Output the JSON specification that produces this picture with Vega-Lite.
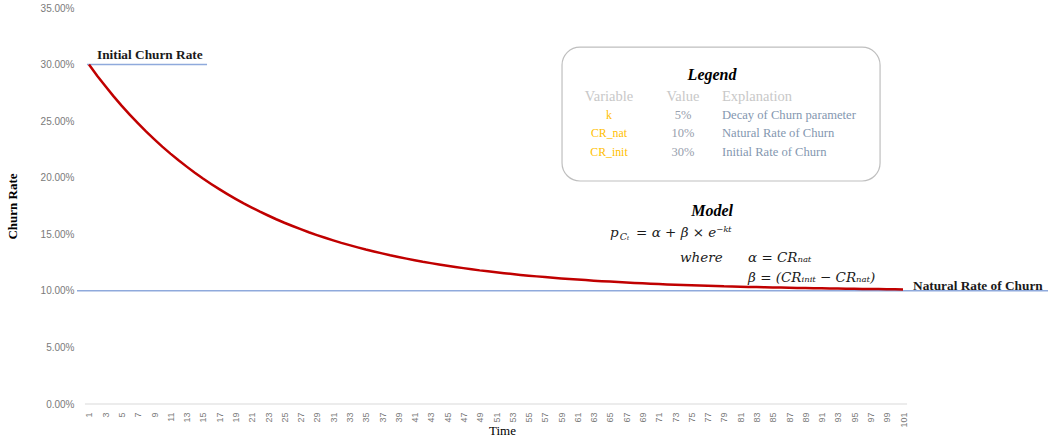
{
  "$schema": "https://vega.github.io/schema/vega-lite/v6.json",
  "width": 971,
  "height": 396,
  "autosize": "none",
  "padding": {"left": 77, "top": 8, "right": 0, "bottom": 38},
  "background": "white",
  "config": {
    "view": {"stroke": null},
    "axis": {"grid": false, "ticks": false, "domain": false, "labelFlush": false, "labelColor": "#7a7a7a", "labelFont": "Liberation Sans", "labelOverlap": false},
    "axisX": {"labelAngle": -90, "labelFontSize": 9, "labelPadding": 8, "labelBound": false},
    "axisY": {"labelFontSize": 10, "labelPadding": 3}
  },
  "datasets": {
    "curve": [
      {"t":1,"v":0.3},{"t":2,"v":0.2902},{"t":3,"v":0.2810},{"t":4,"v":0.2721},{"t":5,"v":0.2637},
      {"t":6,"v":0.2558},{"t":7,"v":0.2482},{"t":8,"v":0.2409},{"t":9,"v":0.2341},{"t":10,"v":0.2275},
      {"t":11,"v":0.2213},{"t":12,"v":0.2154},{"t":13,"v":0.2098},{"t":14,"v":0.2044},{"t":15,"v":0.1993},
      {"t":16,"v":0.1945},{"t":17,"v":0.1899},{"t":18,"v":0.1855},{"t":19,"v":0.1813},{"t":20,"v":0.1773},
      {"t":21,"v":0.1736},{"t":22,"v":0.1700},{"t":23,"v":0.1666},{"t":24,"v":0.1633},{"t":25,"v":0.1602},
      {"t":26,"v":0.1573},{"t":27,"v":0.1545},{"t":28,"v":0.1518},{"t":29,"v":0.1493},{"t":30,"v":0.1469},
      {"t":31,"v":0.1446},{"t":32,"v":0.1424},{"t":33,"v":0.1404},{"t":34,"v":0.1384},{"t":35,"v":0.1365},
      {"t":36,"v":0.1348},{"t":37,"v":0.1331},{"t":38,"v":0.1314},{"t":39,"v":0.1299},{"t":40,"v":0.1285},
      {"t":41,"v":0.1271},{"t":42,"v":0.1257},{"t":43,"v":0.1245},{"t":44,"v":0.1233},{"t":45,"v":0.1222},
      {"t":46,"v":0.1211},{"t":47,"v":0.1201},{"t":48,"v":0.1191},{"t":49,"v":0.1181},{"t":50,"v":0.1173},
      {"t":51,"v":0.1164},{"t":52,"v":0.1156},{"t":53,"v":0.1149},{"t":54,"v":0.1141},{"t":55,"v":0.1134},
      {"t":56,"v":0.1128},{"t":57,"v":0.1122},{"t":58,"v":0.1116},{"t":59,"v":0.1110},{"t":60,"v":0.1105},
      {"t":61,"v":0.1100},{"t":62,"v":0.1095},{"t":63,"v":0.1090},{"t":64,"v":0.1086},{"t":65,"v":0.1082},
      {"t":66,"v":0.1078},{"t":67,"v":0.1074},{"t":68,"v":0.1070},{"t":69,"v":0.1067},{"t":70,"v":0.1063},
      {"t":71,"v":0.1060},{"t":72,"v":0.1057},{"t":73,"v":0.1055},{"t":74,"v":0.1052},{"t":75,"v":0.1049},
      {"t":76,"v":0.1047},{"t":77,"v":0.1045},{"t":78,"v":0.1043},{"t":79,"v":0.1040},{"t":80,"v":0.1039},
      {"t":81,"v":0.1037},{"t":82,"v":0.1035},{"t":83,"v":0.1033},{"t":84,"v":0.1032},{"t":85,"v":0.1030},
      {"t":86,"v":0.1029},{"t":87,"v":0.1027},{"t":88,"v":0.1026},{"t":89,"v":0.1025},{"t":90,"v":0.1023},
      {"t":91,"v":0.1022},{"t":92,"v":0.1021},{"t":93,"v":0.1020},{"t":94,"v":0.1019},{"t":95,"v":0.1018},
      {"t":96,"v":0.1017},{"t":97,"v":0.1016},{"t":98,"v":0.1016},{"t":99,"v":0.1015},{"t":100,"v":0.1014},
      {"t":101,"v":0.1013}
    ],
    "natural": [{"t": -0.474, "t2": 118.81, "v": 0.1}],
    "initLine": [{"t": 0.75, "t2": 15.5, "v": 0.3}],
    "baseLine": [{"t": 0.5, "t2": 101.5, "v": 0}],
    "box": [{"t": 59.11, "t2": 98.18, "v": 0.3155, "v2": 0.1971}],
    "boldLabels": [
      {"t": 1.98, "v": 0.3085, "text": "Initial Churn Rate"},
      {"t": 102.23, "v": 0.1043, "text": "Natural Rate of Churn"}
    ],
    "headings": [
      {"t": 77.54, "v": 0.2908, "text": "Legend"},
      {"t": 77.54, "v": 0.1706, "text": "Model"}
    ],
    "colHeadCenter": [
      {"t": 64.88, "v": 0.2713, "text": "Variable"},
      {"t": 73.97, "v": 0.2713, "text": "Value"}
    ],
    "colHeadLeft": [
      {"t": 78.76, "v": 0.2713, "text": "Explanation"}
    ],
    "varNames": [
      {"t": 64.88, "v": 0.2554, "text": "k"},
      {"t": 64.88, "v": 0.2395, "text": "CR_nat"},
      {"t": 64.88, "v": 0.2227, "text": "CR_init"}
    ],
    "varValues": [
      {"t": 73.97, "v": 0.2554, "text": "5%"},
      {"t": 73.97, "v": 0.2395, "text": "10%"},
      {"t": 73.97, "v": 0.2227, "text": "30%"}
    ],
    "varExpl": [
      {"t": 78.76, "v": 0.2554, "text": "Decay of Churn parameter"},
      {"t": 78.76, "v": 0.2395, "text": "Natural Rate of Churn"},
      {"t": 78.76, "v": 0.2227, "text": "Initial Rate of Churn"}
    ],
    "mathMain": [
      {"t": 65.0, "v": 0.1511, "text": "p"},
      {"t": 68.2, "v": 0.1511, "text": "= α + β × e⁻ᵏᵗ"},
      {"t": 73.6, "v": 0.129, "text": "where"},
      {"t": 81.96, "v": 0.129, "text": "α = CRₙₐₜ"},
      {"t": 81.96, "v": 0.1114, "text": "β = (CRᵢₙᵢₜ − CRₙₐₜ)"}
    ],
    "mathSmall": [
      {"t": 66.2, "v": 0.1476, "text": "Cₜ"}
    ]
  },
  "encoding": {
    "x": {
      "field": "t", "type": "quantitative",
      "scale": {"domain": [-0.474, 118.81], "nice": false, "zero": false},
      "axis": {
        "values": [1,3,5,7,9,11,13,15,17,19,21,23,25,27,29,31,33,35,37,39,41,43,45,47,49,51,53,55,57,59,61,63,65,67,69,71,73,75,77,79,81,83,85,87,89,91,93,95,97,99,101],
        "labelOverlap": false,
        "title": "Time", "titleFont": "Liberation Serif", "titleFontSize": 13, "titleFontWeight": "normal", "titleColor": "#000000",
        "titleX": 425, "titleY": 20, "titleAlign": "center", "titleBaseline": "top"
      }
    },
    "y": {
      "field": "v", "type": "quantitative",
      "scale": {"domain": [0, 0.35], "nice": false},
      "axis": {
        "values": [0, 0.05, 0.1, 0.15, 0.2, 0.25, 0.3, 0.35], "format": ".2%",
        "title": "Churn Rate", "titleFont": "Liberation Serif", "titleFontSize": 13, "titleFontWeight": "bold", "titleColor": "#000000",
        "titleX": -64.5, "titleY": 198, "titleAlign": "center", "titleBaseline": "middle", "titleAngle": -90
      }
    }
  },
  "layer": [
    {
      "data": {"name": "box"},
      "mark": {"type": "rect", "cornerRadius": 18, "fill": "white", "stroke": "#bfbfbf", "strokeWidth": 1.2},
      "encoding": {"x2": {"field": "t2"}, "y2": {"field": "v2"}}
    },
    {
      "data": {"name": "natural"},
      "mark": {"type": "rule", "color": "#8faadc", "strokeWidth": 1.5},
      "encoding": {"x2": {"field": "t2"}}
    },
    {
      "data": {"name": "initLine"},
      "mark": {"type": "rule", "color": "#8faadc", "strokeWidth": 1.5},
      "encoding": {"x2": {"field": "t2"}}
    },
    {
      "data": {"name": "baseLine"},
      "mark": {"type": "rule", "color": "#d9d9d9", "strokeWidth": 1},
      "encoding": {"x2": {"field": "t2"}}
    },
    {
      "data": {"name": "curve"},
      "mark": {"type": "line", "color": "#c00000", "strokeWidth": 2.5},
      "encoding": {}
    },
    {
      "data": {"name": "boldLabels"},
      "mark": {"type": "text", "font": "Liberation Serif", "fontWeight": "bold", "fontSize": 13.3, "align": "left", "baseline": "middle", "color": "#1a1a1a"},
      "encoding": {"text": {"field": "text"}}
    },
    {
      "data": {"name": "headings"},
      "mark": {"type": "text", "font": "Liberation Serif", "fontWeight": "bold", "fontStyle": "italic", "fontSize": 16, "align": "center", "baseline": "middle", "color": "#000000"},
      "encoding": {"text": {"field": "text"}}
    },
    {
      "data": {"name": "colHeadCenter"},
      "mark": {"type": "text", "font": "Liberation Serif", "fontSize": 14.5, "align": "center", "baseline": "middle", "color": "#c8c8c8"},
      "encoding": {"text": {"field": "text"}}
    },
    {
      "data": {"name": "colHeadLeft"},
      "mark": {"type": "text", "font": "Liberation Serif", "fontSize": 14.5, "align": "left", "baseline": "middle", "color": "#c8c8c8"},
      "encoding": {"text": {"field": "text"}}
    },
    {
      "data": {"name": "varNames"},
      "mark": {"type": "text", "font": "Liberation Serif", "fontSize": 11.8, "align": "center", "baseline": "middle", "color": "#ffc000"},
      "encoding": {"text": {"field": "text"}}
    },
    {
      "data": {"name": "varValues"},
      "mark": {"type": "text", "font": "Liberation Serif", "fontSize": 12.5, "align": "center", "baseline": "middle", "color": "#97a0ad"},
      "encoding": {"text": {"field": "text"}}
    },
    {
      "data": {"name": "varExpl"},
      "mark": {"type": "text", "font": "Liberation Serif", "fontSize": 12.6, "align": "left", "baseline": "middle", "color": "#8497b0"},
      "encoding": {"text": {"field": "text"}}
    },
    {
      "data": {"name": "mathMain"},
      "mark": {"type": "text", "font": "DejaVu Serif", "fontStyle": "italic", "fontSize": 13.5, "align": "left", "baseline": "middle", "color": "#1a1a1a"},
      "encoding": {"text": {"field": "text"}}
    },
    {
      "data": {"name": "mathSmall"},
      "mark": {"type": "text", "font": "DejaVu Serif", "fontStyle": "italic", "fontSize": 9.5, "align": "left", "baseline": "middle", "color": "#1a1a1a"},
      "encoding": {"text": {"field": "text"}}
    }
  ]
}
